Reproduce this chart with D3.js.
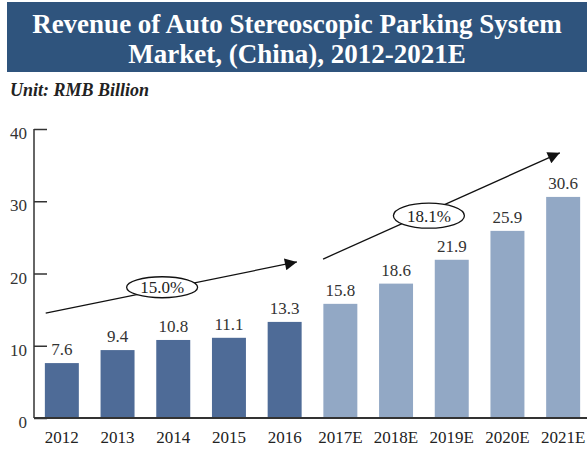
<!DOCTYPE html>
<html>
<head>
<meta charset="utf-8">
<script src="https://cdn.jsdelivr.net/npm/d3@7"></script>
<style>
  body { margin: 0; background: #fff; }
  svg { display: block; }
</style>
</head>
<body>
<svg width="587" height="449"></svg>
<script>
const years = ["2012", "2013", "2014", "2015", "2016", "2017E", "2018E", "2019E", "2020E", "2021E"];
const revenue = [7.6, 9.4, 10.8, 11.1, 13.3, 15.8, 18.6, 21.9, 25.9, 30.6];
const yTicks = [0, 10, 20, 30, 40];
// CAGR annotations: arrow from/to in (year index, value) space
const cagrLabels = ["15.0%", "18.1%"];
const cagrFrom = [[-0.29, 14.5], [4.69, 22.0]];
const cagrTo = [[4.22, 21.6], [8.94, 36.7]];
const cagrAt = [[1.8, 18.1], [6.59, 28.0]];

const svg = d3.select("svg");
const serif = "'Liberation Serif', 'Times New Roman', serif";

// title banner
svg.append("rect").attr("x", 7).attr("y", 2).attr("width", 580).attr("height", 70)
  .attr("fill", "#2f547d");
const title = svg.append("text").attr("fill", "#fff").attr("font-family", serif)
  .attr("font-weight", "bold").attr("font-size", 27).attr("text-anchor", "middle");
title.append("tspan").attr("x", 297).attr("y", 33).text("Revenue of Auto Stereoscopic Parking System");
title.append("tspan").attr("x", 297).attr("y", 63).text("Market, (China), 2012-2021E");

svg.append("text").attr("x", 10).attr("y", 96).attr("font-family", serif)
  .attr("font-style", "italic").attr("font-weight", "bold").attr("font-size", 18)
  .attr("fill", "#222").text("Unit: RMB Billion");

const x = d3.scaleBand().domain(years).range([34, 591])
  .paddingInner(0.39).paddingOuter(0.195);
const y = d3.scaleLinear().domain([0, 40]).range([418, 129]);
const xi = d3.scaleLinear().domain([0, 1]).range([x(years[0]) + x.bandwidth() / 2, x(years[1]) + x.bandwidth() / 2]);

// bars
svg.append("g").selectAll("rect").data(revenue).enter().append("rect")
  .attr("x", (d, i) => x(years[i]))
  .attr("y", d => y(d))
  .attr("width", x.bandwidth())
  .attr("height", d => y(0) - y(d))
  .attr("fill", (d, i) => years[i].endsWith("E") ? "#92a8c5" : "#4e6b97");

// value labels
svg.append("g").selectAll("text").data(revenue).enter().append("text")
  .attr("x", (d, i) => x(years[i]) + x.bandwidth() / 2)
  .attr("y", d => y(d) - 8)
  .attr("text-anchor", "middle").attr("font-family", serif).attr("font-size", 17)
  .attr("fill", "#333").text(d => d.toFixed(1));

// y axis
const yAxis = svg.append("g").attr("transform", "translate(34,0)")
  .call(d3.axisRight(y).tickValues(yTicks).tickSize(13).tickFormat(""));
yAxis.select(".domain").remove();
yAxis.selectAll("line").attr("stroke", "#333").attr("stroke-width", 1.5);
svg.append("line").attr("x1", 34).attr("x2", 34).attr("y1", y(40)).attr("y2", y(0))
  .attr("stroke", "#333").attr("stroke-width", 1.5);
svg.append("g").selectAll("text").data(yTicks).enter().append("text")
  .attr("x", 27).attr("y", d => y(d) + 10)
  .attr("text-anchor", "end").attr("font-family", serif).attr("font-size", 17)
  .attr("fill", "#333").text(d => d);

// x axis
svg.append("line").attr("x1", 34).attr("x2", 587).attr("y1", y(0)).attr("y2", y(0))
  .attr("stroke", "#333").attr("stroke-width", 2);
svg.append("g").selectAll("text").data(years).enter().append("text")
  .attr("x", d => x(d) + x.bandwidth() / 2).attr("y", 443)
  .attr("text-anchor", "middle").attr("font-family", serif).attr("font-size", 17)
  .attr("fill", "#222").text(d => d);

// CAGR arrows
svg.append("defs").append("marker").attr("id", "head")
  .attr("viewBox", "0 0 10 10").attr("refX", 10).attr("refY", 5)
  .attr("markerWidth", 14).attr("markerHeight", 12).attr("markerUnits", "userSpaceOnUse")
  .attr("orient", "auto")
  .append("path").attr("d", "M0,0L10,5L0,10Z").attr("fill", "#111");

cagrLabels.forEach((lab, k) => {
  svg.append("line")
    .attr("x1", xi(cagrFrom[k][0])).attr("y1", y(cagrFrom[k][1]))
    .attr("x2", xi(cagrTo[k][0])).attr("y2", y(cagrTo[k][1]))
    .attr("stroke", "#111").attr("stroke-width", 1.3).attr("marker-end", "url(#head)");
  const cx = xi(cagrAt[k][0]), cy = y(cagrAt[k][1]);
  svg.append("ellipse").attr("cx", cx).attr("cy", cy)
    .attr("rx", 35.5).attr("ry", k ? 12.5 : 10.5)
    .attr("fill", "#fff").attr("stroke", "#111").attr("stroke-width", 1.3);
  svg.append("text").attr("x", cx).attr("y", cy + 6)
    .attr("text-anchor", "middle").attr("font-family", serif).attr("font-size", 17)
    .attr("fill", "#222").text(lab);
});
</script>
</body>
</html>
